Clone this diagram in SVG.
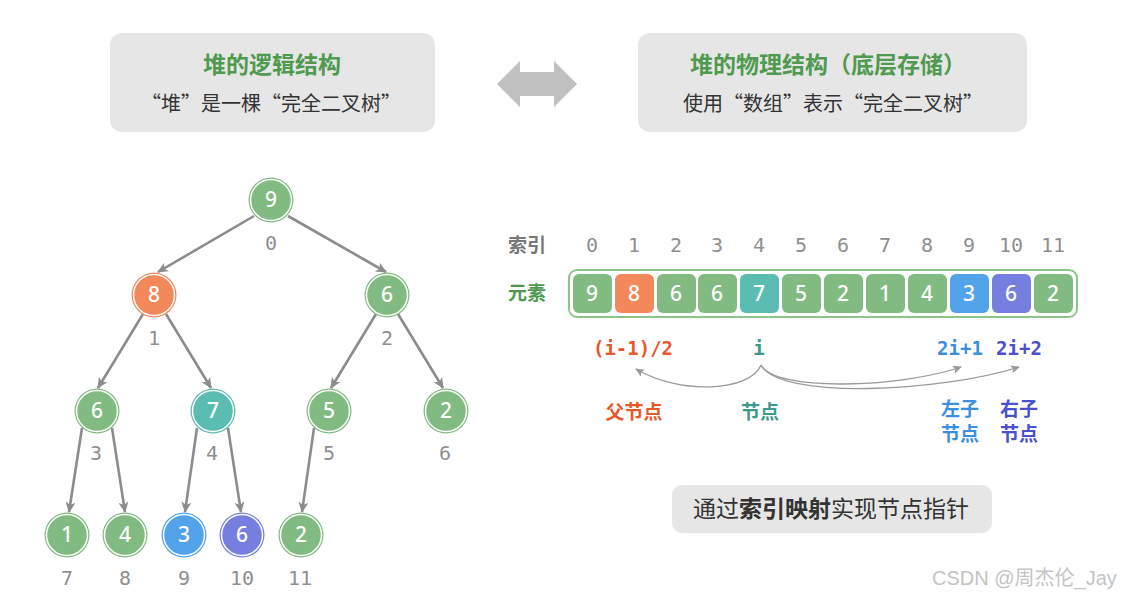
<svg xmlns="http://www.w3.org/2000/svg" width="1126" height="598" viewBox="0 0 1126 598">
<style>
.box{fill:#e6e6e6}
.title{font-family:"Noto Sans CJK SC",sans-serif;font-weight:700;font-size:23px;fill:#4f9a4f;text-anchor:middle}
.sub{font-family:"Noto Sans CJK SC",sans-serif;font-size:20px;fill:#333;text-anchor:middle}
.edge{stroke:#8c8c8c;stroke-width:2.6;fill:none;marker-end:url(#ah)}
.curve{stroke:#999;stroke-width:1.3;fill:none;marker-end:url(#ah2)}
.nv{font-family:"Noto Sans","DejaVu Sans",sans-serif;font-size:21px;font-weight:500;fill:#fff;text-anchor:middle}
.idx{font-family:"DejaVu Sans Mono",monospace;font-size:20px;fill:#8f8f8f;text-anchor:middle}
.ring{fill:none;stroke:#fff;stroke-width:1.5}
.g{fill:#82bb82}.o{fill:#f3885a}.t{fill:#5bbcb1}.b{fill:#52a3ea}.p{fill:#767fe0}
.lab{font-family:"Noto Sans CJK SC",sans-serif;font-weight:700;font-size:19px;text-anchor:middle}
.fm{font-family:"DejaVu Sans Mono",monospace;font-weight:700;font-size:19px;text-anchor:middle}
</style>
<defs>
<marker id="ah" markerWidth="12" markerHeight="12" refX="10" refY="5" orient="auto" markerUnits="userSpaceOnUse">
<path d="M0,0 L11,5 L0,10 L3,5 Z" fill="#8c8c8c"/>
</marker>
<marker id="ah2" markerWidth="10" markerHeight="10" refX="8" refY="4" orient="auto" markerUnits="userSpaceOnUse">
<path d="M0,0 L9,4 L0,8 L2,4 Z" fill="#999"/>
</marker>
</defs>
<rect width="1126" height="598" fill="#fff"/>

<g id="logical-box">
<rect class="box" x="110" y="33" width="325" height="99" rx="12"/>
<text class="title" x="272" y="73">堆的逻辑结构</text>
<text class="sub" x="271" y="111">“堆”是一棵“完全二叉树”</text>
</g>
<g id="physical-box">
<rect class="box" x="638" y="33" width="389" height="99" rx="12"/>
<text class="title" x="828" y="73">堆的物理结构（底层存储）</text>
<text class="sub" x="833" y="111">使用“数组”表示“完全二叉树”</text>
</g>
<g id="double-arrow">
<polygon points="497,84 520,61 520,72 554,72 554,61 577,84 554,107 554,96 520,96 520,107" fill="#c0c0c0"/>
</g>

<g id="connectors">
<line class="edge" x1="254" y1="216" x2="158" y2="272"/>
<line class="edge" x1="288" y1="216" x2="386" y2="272"/>
<line class="edge" x1="143" y1="314" x2="98" y2="388"/>
<line class="edge" x1="166" y1="314" x2="211" y2="388"/>
<line class="edge" x1="376" y1="314" x2="331" y2="388"/>
<line class="edge" x1="398" y1="314" x2="443" y2="388"/>
<line class="edge" x1="82" y1="428" x2="69" y2="512"/>
<line class="edge" x1="112" y1="428" x2="125" y2="512"/>
<line class="edge" x1="197" y1="428" x2="185" y2="512"/>
<line class="edge" x1="228" y1="428" x2="241" y2="512"/>
<line class="edge" x1="314" y1="428" x2="302" y2="512"/>
<path class="curve" d="M761,365 C750,392 680,395 636,369"/>
<path class="curve" d="M761,365 C775,392 900,388 961,367"/>
<path class="curve" d="M761,365 C780,400 940,392 1019,367"/>
</g>

<g id="n0"><circle class="g" cx="271" cy="200" r="22.5"/><circle class="ring" cx="271" cy="200" r="20.5"/><text class="nv" x="271" y="207">9</text><text class="idx" x="271" y="250">0</text></g>
<g id="n1"><circle class="o" cx="154" cy="295" r="22.5"/><circle class="ring" cx="154" cy="295" r="20.5"/><text class="nv" x="154" y="302">8</text><text class="idx" x="154" y="345">1</text></g>
<g id="n2"><circle class="g" cx="387" cy="295" r="22.5"/><circle class="ring" cx="387" cy="295" r="20.5"/><text class="nv" x="387" y="302">6</text><text class="idx" x="387" y="345">2</text></g>
<g id="n3"><circle class="g" cx="97" cy="411" r="22.5"/><circle class="ring" cx="97" cy="411" r="20.5"/><text class="nv" x="97" y="418">6</text><text class="idx" x="96" y="460">3</text></g>
<g id="n4"><circle class="t" cx="213" cy="411" r="22.5"/><circle class="ring" cx="213" cy="411" r="20.5"/><text class="nv" x="213" y="418">7</text><text class="idx" x="212" y="460">4</text></g>
<g id="n5"><circle class="g" cx="329" cy="411" r="22.5"/><circle class="ring" cx="329" cy="411" r="20.5"/><text class="nv" x="329" y="418">5</text><text class="idx" x="329" y="460">5</text></g>
<g id="n6"><circle class="g" cx="446" cy="411" r="22.5"/><circle class="ring" cx="446" cy="411" r="20.5"/><text class="nv" x="446" y="418">2</text><text class="idx" x="445" y="460">6</text></g>
<g id="n7"><circle class="g" cx="67" cy="535" r="22.5"/><circle class="ring" cx="67" cy="535" r="20.5"/><text class="nv" x="67" y="542">1</text><text class="idx" x="67" y="585">7</text></g>
<g id="n8"><circle class="g" cx="125" cy="535" r="22.5"/><circle class="ring" cx="125" cy="535" r="20.5"/><text class="nv" x="125" y="542">4</text><text class="idx" x="125" y="585">8</text></g>
<g id="n9"><circle class="b" cx="184" cy="535" r="22.5"/><circle class="ring" cx="184" cy="535" r="20.5"/><text class="nv" x="184" y="542">3</text><text class="idx" x="184" y="585">9</text></g>
<g id="n10"><circle class="p" cx="242" cy="535" r="22.5"/><circle class="ring" cx="242" cy="535" r="20.5"/><text class="nv" x="242" y="542">6</text><text class="idx" x="242" y="585">10</text></g>
<g id="n11"><circle class="g" cx="301" cy="535" r="22.5"/><circle class="ring" cx="301" cy="535" r="20.5"/><text class="nv" x="301" y="542">2</text><text class="idx" x="300" y="585">11</text></g>

<g id="array">
<text class="lab" x="527" y="252" fill="#777">索引</text>
<text class="lab" x="527" y="300" fill="#4f9a4f">元素</text>
<g class="idx" fill="#8f8f8f">
<text x="592" y="252">0</text><text x="634" y="252">1</text><text x="676" y="252">2</text><text x="717" y="252">3</text><text x="759" y="252">4</text><text x="801" y="252">5</text><text x="843" y="252">6</text><text x="885" y="252">7</text><text x="927" y="252">8</text><text x="969" y="252">9</text><text x="1011" y="252">10</text><text x="1053" y="252">11</text>
</g>
<rect x="569" y="270" width="508" height="47" rx="8" fill="none" stroke="#8cc48c" stroke-width="2"/>
<rect class="g" x="573" y="274" width="39" height="39" rx="6"/>
<rect class="o" x="615" y="274" width="39" height="39" rx="6"/>
<rect class="g" x="657" y="274" width="39" height="39" rx="6"/>
<rect class="g" x="698" y="274" width="39" height="39" rx="6"/>
<rect class="t" x="740" y="274" width="39" height="39" rx="6"/>
<rect class="g" x="782" y="274" width="39" height="39" rx="6"/>
<rect class="g" x="824" y="274" width="39" height="39" rx="6"/>
<rect class="g" x="866" y="274" width="39" height="39" rx="6"/>
<rect class="g" x="908" y="274" width="39" height="39" rx="6"/>
<rect class="b" x="950" y="274" width="39" height="39" rx="6"/>
<rect class="p" x="992" y="274" width="39" height="39" rx="6"/>
<rect class="g" x="1034" y="274" width="39" height="39" rx="6"/>
<g class="nv">
<text x="592" y="301">9</text><text x="634" y="301">8</text><text x="676" y="301">6</text><text x="717" y="301">6</text><text x="759" y="301">7</text><text x="801" y="301">5</text><text x="843" y="301">2</text><text x="885" y="301">1</text><text x="927" y="301">4</text><text x="969" y="301">3</text><text x="1011" y="301">6</text><text x="1053" y="301">2</text>
</g>
</g>

<g id="mapping">
<text class="fm" x="633" y="355" fill="#e8582c">(i-1)/2</text>
<text class="fm" x="759" y="355" fill="#3d9a8c">i</text>
<text class="fm" x="960" y="355" fill="#3b8fe0">2i+1</text>
<text class="fm" x="1019" y="355" fill="#4a50d0">2i+2</text>
<text class="lab" x="634" y="419" fill="#e8582c">父节点</text>
<text class="lab" x="760" y="419" fill="#3d9a8c">节点</text>
<text class="lab" x="960" y="416" fill="#3b8fe0">左子</text>
<text class="lab" x="960" y="441" fill="#3b8fe0">节点</text>
<text class="lab" x="1019" y="416" fill="#4a50d0">右子</text>
<text class="lab" x="1019" y="441" fill="#4a50d0">节点</text>
</g>

<g id="note">
<rect class="box" x="672" y="485" width="320" height="48" rx="10"/>
<text x="831" y="517" font-family="Noto Sans CJK SC, sans-serif" font-size="23" fill="#333" text-anchor="middle">通过<tspan font-weight="700">索引映射</tspan>实现节点指针</text>
</g>

<text x="932" y="585" font-family="Liberation Sans, Noto Sans CJK SC, sans-serif" font-size="20" fill="#c4c4c4">CSDN @周杰伦_Jay</text>
</svg>
